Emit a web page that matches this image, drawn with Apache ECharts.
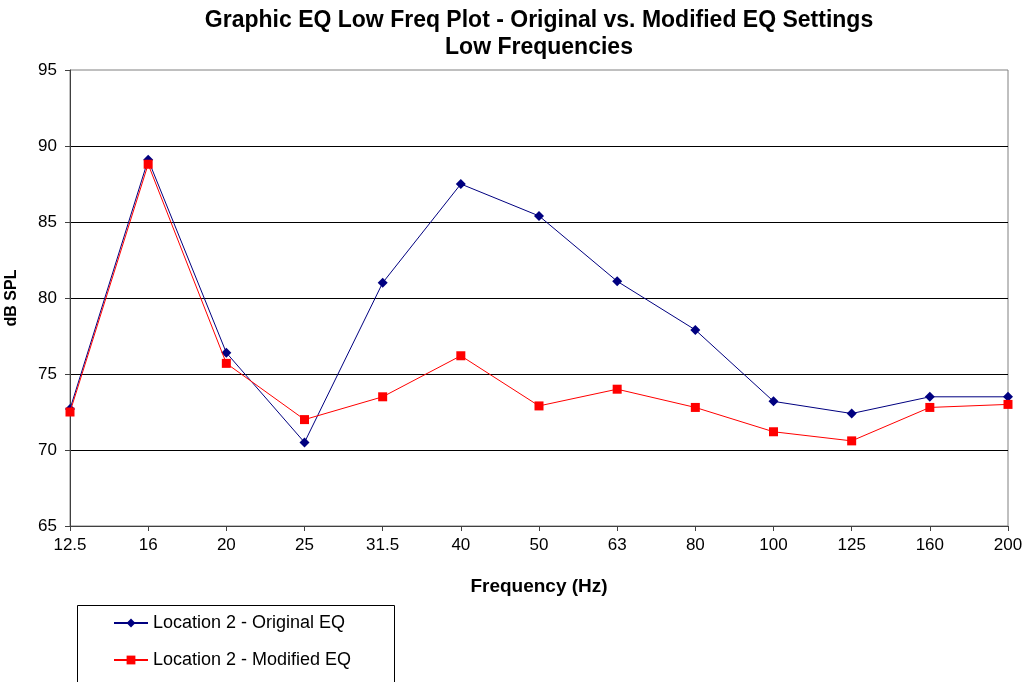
<!DOCTYPE html>
<html>
<head>
<meta charset="utf-8">
<script src="https://cdn.jsdelivr.net/npm/echarts@6/dist/echarts.min.js"></script>
<style>
html,body{margin:0;padding:0;background:#fff;}
#chart{width:1028px;height:682px;}
</style>
</head>
<body>
<div id="chart"></div>
<script>
const categories = ['12.5','16','20','25','31.5','40','50','63','80','100','125','160','200'];
const originalEQ = [72.7, 89.1, 76.4, 70.5, 81.0, 87.5, 85.4, 81.1, 77.9, 73.2, 72.4, 73.5, 73.5];
const modifiedEQ = [72.5, 88.8, 75.7, 72.0, 73.5, 76.2, 72.9, 74.0, 72.8, 71.2, 70.6, 72.8, 73.0];
const yTicks = {min: 65, max: 95, interval: 5};

const FONT = '"Liberation Sans", Arial, sans-serif';
const chart = echarts.init(document.getElementById('chart'), null, {renderer: 'canvas'});
chart.setOption({
  animation: false,
  backgroundColor: '#ffffff',
  title: {
    text: 'Graphic EQ Low Freq Plot - Original vs. Modified EQ Settings\nLow Frequencies',
    left: 539, top: 7, padding: 0,
    textAlign: 'center',
    textStyle: {fontFamily: FONT, fontSize: 23, fontWeight: 'bold', color: '#000', lineHeight: 27}
  },
  grid: {left: 70, top: 70, right: 20, bottom: 156, show: true, borderColor: '#808080', borderWidth: 1, containLabel: false, outerBoundsMode: 'none'},
  graphic: [{
    type: 'rect',
    shape: {x: 77.5, y: 605.5, width: 317, height: 120},
    style: {fill: 'none', stroke: '#000', lineWidth: 1},
    silent: true
  }],
  legend: {
    orient: 'vertical',
    left: 113, top: 614,
    padding: 0,
    itemGap: 19,
    itemWidth: 34, itemHeight: 11,
    textStyle: {fontFamily: FONT, fontSize: 18, color: '#000'},
    data: ['Location 2 - Original EQ', 'Location 2 - Modified EQ']
  },
  xAxis: {
    type: 'category',
    data: categories,
    boundaryGap: false,
    name: 'Frequency (Hz)',
    nameLocation: 'middle',
    nameGap: 51,
    nameTextStyle: {fontFamily: FONT, fontSize: 19, fontWeight: 'bold', color: '#000'},
    axisLine: {lineStyle: {color: '#404040', width: 1}},
    axisTick: {show: true, length: 5, inside: false, alignWithLabel: true, lineStyle: {color: '#404040'}},
    axisLabel: {fontFamily: FONT, fontSize: 17, color: '#000', margin: 11, interval: 0},
    splitLine: {show: false}
  },
  yAxis: {
    type: 'value',
    min: yTicks.min, max: yTicks.max, interval: yTicks.interval,
    name: 'dB SPL',
    nameLocation: 'middle',
    nameGap: 50,
    nameRotate: 90,
    nameTextStyle: {fontFamily: FONT, fontSize: 16, fontWeight: 'bold', color: '#000'},
    axisLine: {show: true, lineStyle: {color: '#404040', width: 1}},
    axisTick: {show: true, length: 5, inside: false, lineStyle: {color: '#404040'}},
    axisLabel: {fontFamily: FONT, fontSize: 17, color: '#000', margin: 13},
    splitLine: {show: true, showMinLine: false, showMaxLine: false, lineStyle: {color: '#000', width: 1}}
  },
  series: [
    {
      name: 'Location 2 - Original EQ',
      type: 'line',
      data: originalEQ,
      symbol: 'diamond',
      symbolSize: 10,
      lineStyle: {color: '#000080', width: 1},
      itemStyle: {color: '#000080'},
      z: 3
    },
    {
      name: 'Location 2 - Modified EQ',
      type: 'line',
      data: modifiedEQ,
      symbol: 'rect',
      symbolSize: 9,
      lineStyle: {color: '#ff0000', width: 1},
      itemStyle: {color: '#ff0000'},
      z: 4
    }
  ]
});
</script>
</body>
</html>
